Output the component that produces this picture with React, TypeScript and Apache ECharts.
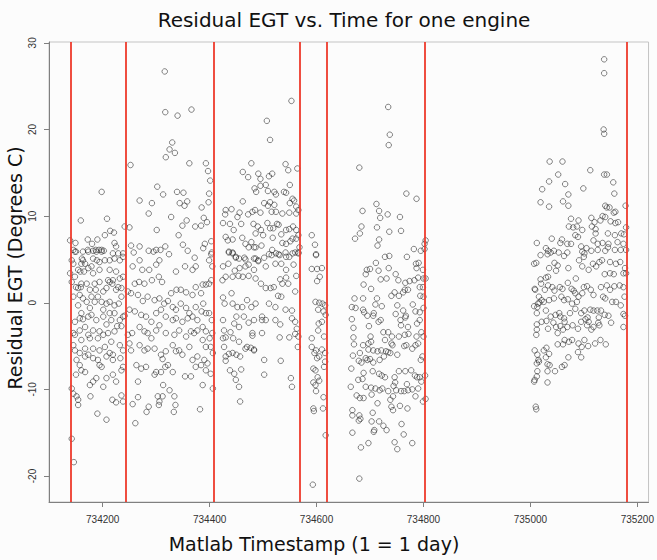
import { useEffect, useRef } from "react";
import * as echarts from "echarts";

const chartTitle = "Residual EGT vs. Time for one engine";
const xTitle = "Matlab Timestamp (1 = 1 day)";
const yTitle = "Residual EGT (Degrees C)";
const xTicks = [734200, 734400, 734600, 734800, 735000, 735200];
const yTicks = [-20, -10, 0, 10, 20, 30];
const breakDays = [734140, 734244, 734408, 734568, 734619, 734803, 735180];

// Segment 1 (734140 - 734244)
const seg1: number[][] = [
  [734139,7.2],[734149,6.9],[734145,6.1],[734150,5.9],[734159,9.5],[734172,7.3],[734180,6.8],[734190,7.3],[734198,12.8],[734204,7.8],[734208,9.7],[734214,8.3],[734221,8.1],[734222,6.9],[734225,6.5],[734172,6.1],[734182,6.0],[734187,6.1],[734193,6.1],[734198,6.1],[734202,6.0],[734161,5.1],[734241,8.8],
  [734148,5.9],[734163,5.9],[734173,5.9],[734188,5.9],[734198,5.9],[734219,5.7],[734229,5.7],[734238,5.7],[734142,4.9],[734145,4.5],[734163,4.9],[734167,4.5],[734182,5.1],[734189,4.9],[734194,4.7],[734204,4.9],[734213,4.9],[734222,5.1],[734232,4.9],[734238,5.3],
  [734139,3.4],[734142,2.4],[734148,3.0],[734154,3.8],[734158,3.6],[734165,3.6],[734173,4.0],[734182,3.4],[734194,3.8],[734210,2.6],[734213,2.4],[734219,2.6],[734232,2.8],[734238,3.0],
  [734150,1.8],[734154,1.7],[734159,1.8],[734170,2.2],[734185,2.2],[734187,1.5],[734201,1.3],[734207,1.7],[734218,2.2],[734229,1.8],[734235,1.7],
  [734145,0.7],[734163,0.5],[734170,0.1],[734179,0.7],[734185,0.1],[734198,0.1],[734207,-0.1],[734213,0.1],[734222,-0.3],[734230,-0.1],[734154,-0.3],
  [734160,-1.2],[734157,-1.8],[734163,-1.9],[734173,-1.6],[734179,-1.4],[734188,-2.0],[734201,-1.6],[734213,-1.2],[734222,-1.2],[734232,-2.0],[734238,-1.6],[734241,-1.5],
  [734145,-3.5],[734148,-3.7],[734157,-3.2],[734167,-2.8],[734173,-3.7],[734182,-3.2],[734194,-3.3],[734191,-4.1],[734201,-3.7],[734210,-3.5],[734222,-3.3],[734227,-2.7],[734235,-2.7],
  [734145,-4.9],[734148,-5.5],[734157,-5.8],[734167,-5.3],[734182,-5.3],[734194,-5.5],[734204,-5.1],[734213,-5.8],[734219,-6.0],[734232,-4.9],[734238,-5.5],
  [734151,-6.6],[734157,-7.2],[734167,-6.2],[734182,-6.4],[734191,-6.6],[734194,-7.2],[734219,-6.6],[734233,-6.4],[734238,-7.4],
  [734150,-8.3],[734167,-8.0],[734182,-9.1],[734188,-8.7],[734198,-7.4],[734201,-9.7],[734207,-8.7],[734225,-9.1],[734235,-7.8],
  [734142,-9.9],[734145,-10.5],[734151,-10.8],[734154,-11.2],[734154,-11.8],[734177,-10.8],[734190,-12.8],[734207,-13.5],[734218,-11.2],[734225,-11.5],[734235,-10.7],[734238,-11.4],
  [734142,-15.7],[734146,-18.4],
  [734160,4.5],[734179,4.2],[734213,3.8],[734225,3.6],[734160,2.2],[734194,2.4],[734176,1.5],[734225,1.5],[734157,0.9],[734191,0.7],[734235,0.7],[734176,-0.6],[734201,-0.8],[734148,-2.2],[734207,-2.5],[734216,-2.0],[734160,-4.3],[734176,-4.1],[734216,-4.5],[734173,-6.0],[734207,-6.2],[734160,-7.8],[734219,-8.3],[734176,-9.5]
];

// Segment 2 (734244 - 734408)
const seg2: number[][] = [
  [734250,8.7],[734252,15.9],[734269,11.8],[734286,10.3],[734292,11.5],[734302,13.4],[734301,8.4],[734313,12.5],[734316,26.7],[734317,22.0],[734340,21.6],[734366,22.3],[734330,18.5],[734325,17.7],[734335,17.3],[734318,16.8],[734362,16.1],[734339,12.8],[734344,11.5],[734351,12.7],[734358,11.7],[734353,11.2],[734328,9.9],[734357,9.5],[734349,8.9],[734342,7.8],[734373,8.8],
  [734253,6.6],[734269,6.5],[734258,5.8],[734286,6.0],[734295,5.9],[734300,6.1],[734308,6.1],[734317,6.5],[734324,5.6],[734350,6.7],[734359,6.0],[734372,5.2],
  [734393,16.1],[734397,15.2],[734401,14.1],[734399,12.6],[734398,11.6],[734385,11.0],[734389,9.8],[734395,9.3],[734384,8.9],[734391,6.8],[734403,7.1],[734388,6.3],[734403,5.6],[734399,4.9],
  [734269,4.9],[734306,4.9],[734256,4.2],[734274,3.8],[734287,3.8],[734300,4.4],[734337,3.6],[734354,4.2],[734368,3.8],[734374,4.2],
  [734260,2.2],[734268,2.4],[734278,2.2],[734292,2.6],[734305,3.0],[734311,2.4],[734328,1.1],[734338,1.5],[734346,1.5],[734356,1.2],[734368,0.9],[734374,1.8],
  [734247,1.3],[734253,1.1],[734266,0.9],[734275,0.2],[734284,0.7],[734297,0.3],[734306,0.5],[734315,-0.1],[734322,0.2],[734331,-0.5],[734337,-0.8],[734346,-0.1],[734356,-0.6],[734362,-1.2],[734374,-0.5],
  [734250,-0.8],[734260,-1.0],[734272,-1.4],[734281,-1.6],[734291,-2.2],[734300,-1.2],[734309,-0.8],[734318,-1.6],[734331,-2.0],[734337,-1.8],[734349,-2.2],[734359,-1.8],[734368,-1.6],[734377,-2.0],
  [734247,-3.7],[734255,-3.5],[734269,-2.8],[734278,-3.3],[734284,-3.5],[734291,-4.1],[734300,-3.2],[734306,-2.6],[734318,-3.5],[734334,-3.7],[734343,-3.2],[734356,-3.9],[734365,-3.3],[734371,-3.5],[734377,-3.2],
  [734250,-4.7],[734253,-5.5],[734269,-4.9],[734278,-5.5],[734284,-5.3],[734297,-5.3],[734309,-6.0],[734312,-6.5],[734318,-5.6],[734331,-4.9],[734337,-5.6],[734343,-5.5],[734349,-6.0],[734362,-5.1],[734368,-6.6],[734377,-6.2],
  [734263,-7.2],[734272,-7.6],[734281,-7.4],[734297,-8.3],[734300,-8.0],[734309,-8.0],[734317,-7.4],[734322,-7.2],[734331,-8.0],[734354,-8.5],[734365,-8.5],[734374,-7.4],
  [734266,-9.1],[734266,-10.9],[734256,-11.7],[734282,-12.6],[734286,-12.0],[734303,-10.8],[734305,-11.8],[734313,-9.5],[734312,-10.8],[734325,-10.1],[734334,-10.8],[734336,-11.8],[734333,-12.6],[734261,-13.9],[734306,-11.4],
  [734404,5.8],[734405,4.2],[734403,2.6],[734393,2.1],[734387,2.1],[734399,2.2],[734384,1.1],[734388,-0.1],[734385,-1.0],[734393,-1.2],[734399,-1.2],[734404,-2.0],[734387,-2.8],[734393,-3.3],[734405,-3.5],[734400,-4.1],[734387,-4.3],[734393,-5.1],[734402,-5.1],[734406,-5.8],[734390,-6.6],[734396,-7.0],[734384,-7.2],[734393,-7.8],[734402,-8.2],[734387,-9.5],[734406,-9.9],[734382,-12.3]
];

// Segment 3 (734408 - 734568)
const seg3: number[][] = [
  [734553,23.3],[734507,21.0],[734513,18.8],[734478,16.1],[734462,15.1],[734472,14.5],[734491,14.9],[734511,14.6],[734517,14.9],[734495,14.3],[734542,16.0],[734547,15.3],[734564,15.5],
  [734484,13.2],[734487,12.8],[734495,13.5],[734505,13.6],[734550,13.6],[734509,12.9],[734521,12.8],[734524,12.5],[734539,12.8],[734543,12.7],
  [734430,10.7],[734441,10.8],[734429,10.2],[734425,9.2],[734438,9.1],[734445,8.4],[734456,10.4],[734452,9.9],[734459,9.1],[734462,11.7],[734472,10.2],[734480,10.5],[734482,9.1],[734485,10.7],[734495,10.4],[734502,11.5],[734509,11.2],[734513,11.6],[734521,11.3],[734516,10.5],[734524,10.5],[734536,10.3],[734549,10.4],[734550,11.5],[734555,12.0],[734558,11.8],[734562,11.1],[734566,10.7],[734562,10.3],
  [734526,9.1],[734529,9.0],[734519,8.6],[734513,8.6],[734508,9.2],[734490,8.8],[734496,8.4],[734486,8.0],[734500,7.8],[734518,7.5],[734534,7.9],[734543,8.4],[734549,8.5],[734556,8.8],[734562,8.4],[734566,7.8],
  [734430,7.6],[734434,7.2],[734443,7.3],[734461,7.5],[734478,7.0],[734486,6.4],[734497,6.6],[734467,6.8],[734473,6.4],[734483,6.4],[734517,6.1],[734536,6.9],[734543,6.8],[734551,7.1],[734555,7.4],[734562,7.4],[734568,6.4],
  [734436,5.9],[734443,5.8],[734449,5.2],[734455,5.1],[734467,5.0],[734483,5.1],[734491,4.9],[734502,5.2],[734511,5.6],[734524,5.7],[734531,5.5],[734542,5.8],[734549,5.3],[734560,5.8],[734566,5.8],
  [734436,5.8],[734443,5.7],[734449,5.3],[734465,5.2],[734486,5.1],[734491,4.8],[734516,5.5],[734529,5.6],[734543,5.3],[734555,5.7],[734566,5.7],
  [734425,4.2],[734435,4.5],[734447,3.7],[734456,4.0],[734467,4.2],[734473,4.4],[734483,3.8],[734505,4.2],[734523,4.5],[734534,4.5],[734543,3.8],[734557,4.4],[734562,3.1],
  [734424,2.6],[734430,3.0],[734443,3.0],[734454,3.1],[734462,3.0],[734473,3.1],[734486,2.8],[734496,2.2],[734505,1.7],[734514,1.7],[734520,1.8],[734532,2.7],[734536,2.2],[734547,2.2],[734543,2.9],[734560,1.3],
  [734441,1.1],[734425,0.6],[734428,-0.1],[734443,-0.1],[734452,-0.5],[734461,-0.5],[734470,0.3],[734478,-0.5],[734486,-0.1],[734511,-0.1],[734523,-0.5],[734528,0.8],[734534,0.7],[734542,-0.8],[734554,-0.9],
  [734425,-2.0],[734427,-3.2],[734439,-3.4],[734446,-2.4],[734450,-1.6],[734455,-2.8],[734464,-1.6],[734473,-2.3],[734480,-3.5],[734483,-2.0],[734498,-1.6],[734498,-2.0],[734505,-2.0],[734523,-2.0],[734532,-2.5],[734554,-1.8],[734560,-2.2],[734563,-3.0],[734566,-3.9],
  [734425,-4.1],[734430,-4.0],[734444,-4.1],[734455,-4.5],[734467,-5.3],[734480,-3.8],[734483,-5.5],[734498,-3.5],[734531,-4.0],[734549,-4.0],[734560,-3.6],
  [734427,-5.1],[734430,-6.2],[734436,-5.9],[734443,-5.8],[734450,-6.0],[734457,-6.2],[734470,-5.1],[734477,-5.2],[734483,-5.4],
  [734430,-6.7],[734438,-7.8],[734446,-8.2],[734449,-8.9],[734459,-7.7],[734455,-9.7],[734502,-6.6],[734502,-8.3],[734533,-6.7],[734552,-8.7],[734554,-9.7],[734457,-11.4],[734565,-5.1]
];

// Segment 4 (734568 - 734619)
const seg4: number[][] = [
  [734591,7.8],[734597,6.7],[734599,5.6],
  [734599,5.5],[734591,3.9],[734601,3.9],[734610,4.0],[734606,3.0],[734601,2.5],[734598,0.1],[734605,0.0],[734611,-0.1],[734616,-0.3],[734603,-0.8],[734613,-1.0],[734617,-1.4],
  [734604,-2.4],[734610,-2.2],[734603,-3.2],[734614,-3.9],[734591,-4.1],[734591,-5.1],[734599,-5.5],[734610,-5.4],[734616,-5.8],[734596,-5.8],[734601,-6.4],[734605,-6.2],[734616,-6.8],[734614,-7.4],
  [734594,-7.6],[734598,-7.8],[734602,-8.6],[734605,-9.0],[734594,-9.2],[734598,-9.5],[734599,-10.2],[734594,-12.2],[734595,-12.5],[734612,-12.2],[734613,-10.9],[734617,-15.3],[734593,-21.0]
];

// Segment 5 (734619 - 734803)
const seg5: number[][] = [
  [734734,22.6],[734737,19.4],[734735,18.2],[734680,15.6],[734768,12.6],[734787,12.0],[734712,11.4],[734686,10.6],[734717,10.6],[734733,10.2],[734756,9.9],[734719,9.8],
  [734684,8.8],[734713,8.7],[734758,8.3],[734736,8.2],[734681,8.0],[734672,7.4],[734717,7.3],[734714,6.6],[734782,6.2],[734795,6.0],[734802,6.8],[734804,7.2],[734802,6.2],
  [734728,5.3],[734736,5.4],[734769,5.3],[734711,4.6],[734786,4.5],[734791,4.6],[734735,4.0],[734694,3.8],[734700,3.9],[734692,3.3],[734716,3.7],[734748,3.3],[734787,4.0],[734799,3.8],
  [734800,2.8],[734804,2.8],[734731,2.8],[734720,2.7],[734753,2.6],[734766,2.3],[734774,2.5],[734783,2.6],[734790,2.9],[734688,2.1],[734702,1.6],[734765,1.5],[734793,1.8],[734799,1.8],
  [734671,0.5],[734687,0.5],[734713,0.5],[734740,0.8],[734746,1.2],[734754,0.8],[734762,1.2],[734771,1.5],[734794,0.8],[734800,0.7],
  [734666,-0.5],[734673,-0.6],[734687,-0.8],[734689,-1.1],[734695,-1.5],[734707,-1.2],[734710,-0.2],[734722,-0.4],[734751,-0.3],[734748,-1.3],[734762,-0.9],[734767,-1.5],[734780,-0.2],[734785,-1.0],[734793,-1.1],[734800,-0.6],
  [734666,-1.9],[734698,-2.7],[734706,-1.5],[734716,-2.2],[734720,-2.0],[734757,-2.0],[734766,-1.7],[734758,-2.6],[734771,-2.8],[734788,-2.4],[734793,-2.0],[734669,-2.9],
  [734701,-3.9],[734725,-3.4],[734734,-3.4],[734741,-3.9],[734754,-3.9],[734765,-3.7],[734772,-3.6],[734787,-3.9],[734796,-3.4],[734800,-3.9],
  [734669,-4.0],[734670,-4.8],[734687,-4.9],[734697,-4.7],[734702,-4.5],[734728,-4.3],[734740,-4.7],[734742,-4.9],[734764,-5.0],[734768,-4.9],[734779,-5.3],[734785,-4.9],[734790,-4.7],
  [734681,-5.8],[734668,-6.1],[734697,-5.4],[734706,-5.5],[734714,-5.6],[734721,-5.5],[734730,-5.6],[734734,-5.7],[734738,-5.8],[734751,-6.0],[734726,-6.2],
  [734679,-6.7],[734684,-6.9],[734692,-6.4],[734695,-6.6],[734700,-6.5],[734706,-6.9],[734718,-6.6],[734795,-6.6],[734798,-6.2],
  [734665,-7.6],[734688,-8.1],[734705,-7.9],[734717,-8.2],[734722,-8.4],[734728,-8.6],[734754,-7.9],[734766,-7.9],[734777,-7.8],[734784,-8.4],[734793,-8.6],[734803,-8.4],
  [734678,-8.9],[734686,-8.8],[734746,-8.6],[734747,-9.2],[734788,-8.6],
  [734664,-9.7],[734675,-10.7],[734681,-11.0],[734688,-11.0],[734692,-9.7],[734702,-9.8],[734710,-9.9],[734718,-10.1],[734723,-9.9],[734734,-10.2],[734744,-9.6],[734749,-10.1],[734758,-10.2],[734764,-10.2],[734769,-9.4],[734771,-10.1],[734779,-10.0],[734785,-10.8],[734790,-9.9],[734796,-9.1],
  [734703,-10.6],[734714,-11.6],[734738,-11.2],[734743,-10.8],[734756,-11.9],[734770,-12.2],[734799,-11.4],[734804,-11.1],
  [734667,-12.4],[734667,-13.0],[734680,-13.0],[734679,-13.6],[734682,-13.4],[734705,-12.7],[734703,-13.7],[734717,-13.7],[734740,-12.0],[734743,-12.4],[734759,-14.0],
  [734725,-14.2],[734731,-14.7],[734707,-14.9],[734708,-14.7],[734667,-15.0],[734763,-15.2],[734683,-16.7],[734697,-16.2],[734746,-16.1],[734751,-16.9],[734779,-16.2],[734680,-20.3]
];

// Segment 6 (735000 - 735180)
const seg6: number[][] = [
  [735138,28.1],[735138,26.5],[735137,20.0],[735138,19.5],
  [735036,16.3],[735060,16.3],[735112,15.3],[735052,14.8],[735035,14.0],[735065,13.7],[735138,14.8],[735143,14.8],[735155,13.9],[735022,13.1],[735071,12.5],[735099,13.2],[735157,12.6],
  [735019,11.6],[735035,11.1],[735061,11.7],[735071,11.2],[735140,11.2],[735143,11.0],[735148,11.0],[735159,10.5],[735156,10.4],[735178,11.2],
  [735076,9.7],[735090,9.5],[735114,9.8],[735135,10.0],[735140,9.9],[735131,9.5],[735120,9.3],[735072,8.8],[735080,8.7],[735087,8.8],[735097,8.4],[735115,8.8],[735122,8.5],[735150,9.4],[735159,9.2],[735164,9.3],
  [735122,8.0],[735145,8.0],[735158,7.8],[735170,8.0],[735175,7.9],[735179,8.7],[735084,7.8],[735089,7.6],[735040,7.4],[735059,7.3],[735069,6.8],[735056,6.9],[735076,6.8],[735095,6.5],[735118,7.2],[735126,6.8],[735135,6.9],[735146,6.8],[735163,7.0],[735174,6.8],[735179,6.1],
  [735012,6.9],[735029,6.3],[735033,6.0],[735038,5.8],[735044,6.0],[735053,5.8],[735063,5.4],[735069,5.8],[735019,5.5],[735032,5.6],[735097,5.9],[735101,5.7],[735105,6.3],[735100,5.3],[735114,6.0],[735126,6.1],[735140,6.0],[735145,6.4],[735158,6.1],[735169,6.1],
  [735011,4.6],[735007,4.5],[735045,4.6],[735051,4.3],[735048,3.7],[735035,4.0],[735071,4.0],[735091,4.9],[735097,4.2],[735117,4.5],[735123,4.2],[735129,4.7],[735134,4.9],[735149,4.7],[735160,4.5],[735168,4.7],[735177,4.0],
  [735109,3.8],[735139,3.3],[735149,3.4],[735156,3.3],[735174,3.4],[735179,3.4],[735019,2.7],[735029,2.9],[735033,3.0],[735020,2.2],
  [735008,1.6],[735009,1.5],[735016,0.7],[735027,1.5],[735033,2.0],[735041,1.8],[735045,1.4],[735055,1.8],[735060,1.6],[735070,2.3],[735077,1.6],[735081,1.4],[735084,1.1],[735085,2.8],[735100,1.8],[735106,1.9],[735113,1.5],[735118,0.9],[735132,1.8],[735143,2.0],[735149,1.5],[735157,1.9],[735167,2.0],[735174,1.8],[735176,0.7],
  [735014,-0.1],[735017,0.0],[735021,0.3],[735013,-0.5],[735025,0.1],[735035,0.3],[735044,0.5],[735058,0.7],[735063,0.3],[735070,0.4],[735078,-0.1],[735087,0.1],[735097,1.1],[735090,0.7],[735136,0.7],[735140,0.5],[735153,0.1],[735160,0.1],[735169,-0.3],
  [735007,-0.4],[735012,-1.2],[735029,-0.9],[735038,-1.6],[735047,-1.4],[735054,-1.2],[735056,-1.6],[735063,-1.8],[735074,-1.2],[735084,-0.7],[735095,-1.2],[735101,-0.9],[735107,-1.7],[735112,-0.8],[735118,-0.9],[735125,-0.9],[735132,-0.9],[735128,-1.7],[735139,-1.4],[735146,-1.5],[735174,-1.3],[735177,-1.5],
  [735012,-2.5],[735012,-3.1],[735011,-3.7],[735021,-2.2],[735030,-2.1],[735033,-3.0],[735043,-2.3],[735048,-2.8],[735051,-3.5],[735056,-2.7],[735061,-3.1],[735064,-2.2],[735069,-2.8],[735079,-2.6],[735089,-3.0],[735095,-2.2],[735103,-1.9],[735106,-2.6],[735109,-2.2],[735114,-3.1],[735118,-2.8],[735129,-2.6],[735127,-2.3],[735151,-2.3],[735174,-2.8],
  [735008,-5.5],[735013,-6.0],[735015,-6.6],[735025,-5.5],[735030,-5.2],[735029,-6.3],[735035,-5.9],[735051,-4.8],[735061,-4.8],[735064,-4.3],[735072,-4.5],[735078,-4.3],[735090,-4.7],[735096,-5.1],[735101,-4.3],[735108,-5.0],[735121,-4.7],[735131,-4.3],[735141,-4.8],
  [735012,-7.0],[735016,-6.8],[735032,-7.1],[735036,-7.2],[735059,-7.4],[735064,-7.2],[735071,-6.3],[735095,-6.3],[735089,-5.7],
  [735013,-7.9],[735012,-8.5],[735008,-8.9],[735007,-9.1],[735032,-7.9],[735046,-7.9],[735032,-9.2],[735011,-12.3],[735010,-12.0]
];

const allPoints = [...seg1, ...seg2, ...seg3, ...seg4, ...seg5, ...seg6];

export default function App() {
  const ref = useRef<HTMLDivElement>(null);
  useEffect(() => {
    if (!ref.current) return;
    const chart = echarts.init(ref.current, null, { renderer: "svg" });
    chart.setOption({
      animation: false,
      backgroundColor: "#fcfcfc",
      grid: {
        left: 49,
        top: 42,
        width: 603,
        height: 460,
        show: true,
        borderColor: "#c4c4c4",
        borderWidth: 1,
        backgroundColor: "transparent",
      },
      xAxis: {
        type: "value",
        min: 734099.5,
        max: 735221,
        axisLine: { show: true, onZero: false, lineStyle: { color: "#808080", width: 1 } },
        axisTick: { show: true, customValues: xTicks, length: 5, lineStyle: { color: "#808080" } },
        axisLabel: {
          customValues: xTicks,
          formatter: (v: number) => String(Math.round(v)),
          fontSize: 10,
          fontFamily: "Liberation Sans",
          color: "#333",
          margin: 12,
        },
        splitLine: { show: false },
      },
      yAxis: {
        type: "value",
        min: -23,
        max: 30.1,
        axisLine: { show: true, onZero: false, lineStyle: { color: "#808080", width: 1 } },
        axisTick: { show: true, customValues: yTicks, length: 5, lineStyle: { color: "#808080" } },
        axisLabel: {
          customValues: yTicks,
          formatter: (v: number) => String(Math.round(v)),
          rotate: 90,
          fontSize: 10,
          fontFamily: "Liberation Sans",
          color: "#333",
          margin: 12,
        },
        splitLine: { show: false },
      },
      graphic: [
        {
          type: "text",
          x: 344,
          y: 20,
          style: {
            text: chartTitle,
            font: '20px "DejaVu Sans"',
            fill: "#111",
            align: "center",
            verticalAlign: "middle",
            textAlign: "center",
            textVerticalAlign: "middle",
          },
        },
        {
          type: "text",
          x: 314,
          y: 544,
          style: {
            text: xTitle,
            font: '19px "DejaVu Sans"',
            fill: "#111",
            align: "center",
            verticalAlign: "middle",
            textAlign: "center",
            textVerticalAlign: "middle",
          },
        },
        {
          type: "text",
          x: 15,
          y: 268,
          rotation: Math.PI / 2,
          style: {
            text: yTitle,
            font: '19px "DejaVu Sans"',
            fill: "#111",
            align: "center",
            verticalAlign: "middle",
            textAlign: "center",
            textVerticalAlign: "middle",
          },
        },
      ],
      series: [
        {
          type: "scatter",
          data: allPoints,
          symbol: "circle",
          symbolSize: 5.5,
          itemStyle: { color: "rgba(0,0,0,0)", borderColor: "#222", borderWidth: 0.7 },
          emphasis: { disabled: true },
          markLine: {
            silent: true,
            symbol: ["none", "none"],
            label: { show: false },
            lineStyle: { color: "#ee3a2c", width: 1.8, type: "solid" },
            data: breakDays.map((d) => ({ xAxis: d })),
          },
        },
      ],
    });
    return () => chart.dispose();
  }, []);
  return (
    <div
      ref={ref}
      style={{ position: "fixed", left: 0, top: 0, width: 657, height: 560 }}
    />
  );
}
